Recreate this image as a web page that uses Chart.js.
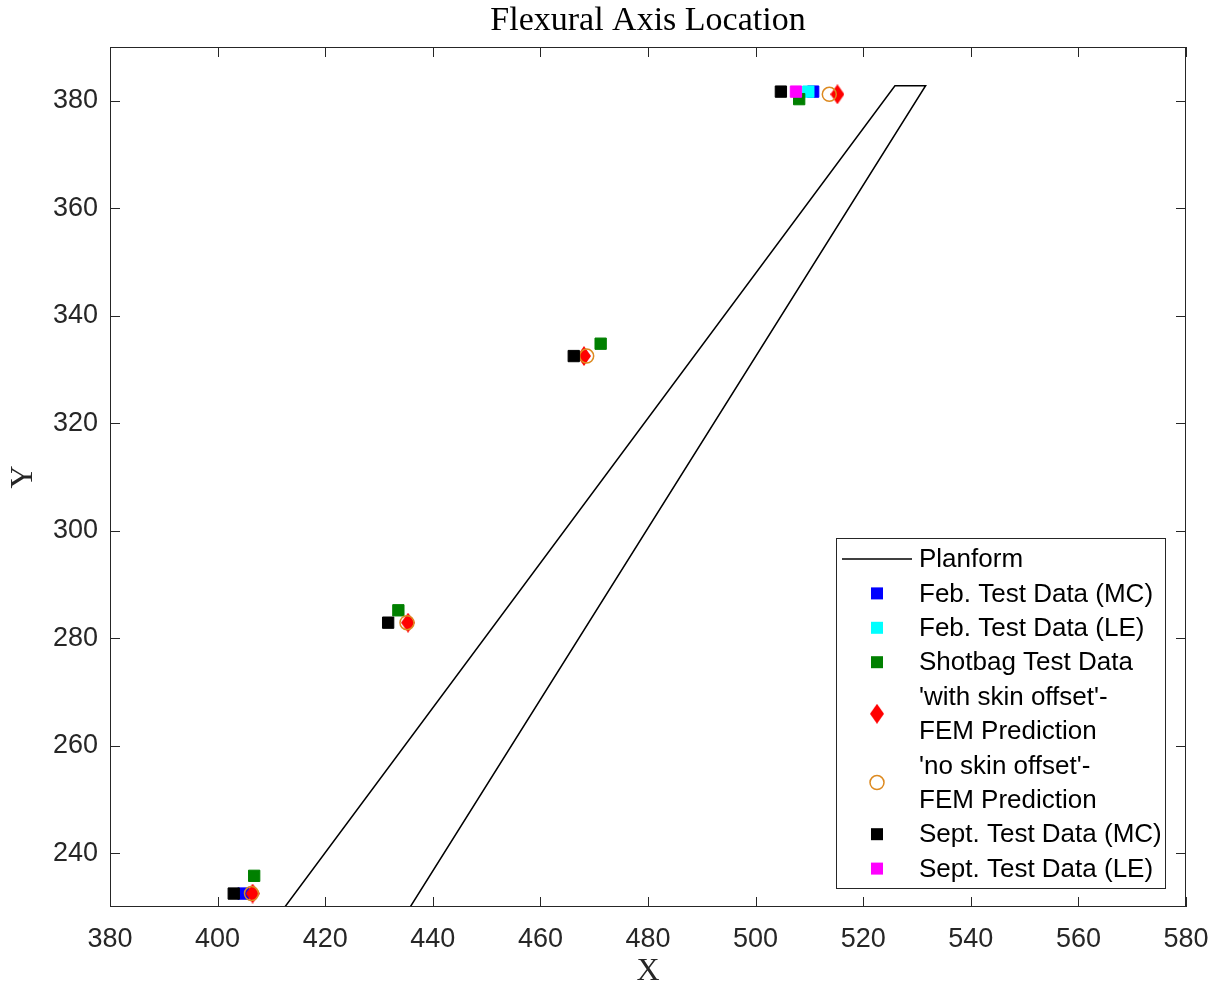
<!DOCTYPE html>
<html>
<head>
<meta charset="utf-8">
<title>Flexural Axis Location</title>
<script src="https://cdn.jsdelivr.net/npm/chart.js@4/dist/chart.umd.min.js"></script>
<style>
  html, body { margin: 0; padding: 0; background: #fff; }
  canvas { display: block; }
</style>
</head>
<body>
<canvas id="flexChart" width="1220" height="988"></canvas>
<script>
// axis ticks
const xTicks = [380, 400, 420, 440, 460, 480, 500, 520, 540, 560, 580];
const yTicks = [240, 260, 280, 300, 320, 340, 360, 380];

// planform outline (open at the root, clipped by the axis)
const planformX = [412.5, 525.9, 531.6, 435.8];
const planformY = [230, 382.8, 382.8, 230];

// measured / predicted flexural axis points
const febMcX = [510.7, 404.8];
const febMcY = [381.7, 232.5];
const febLeX = [509.8];
const febLeY = [381.7];
const shotbagX = [508.1, 471.2, 433.6, 406.8];
const shotbagY = [380.3, 334.8, 285.2, 235.8];
const withSkinX = [515.2, 468.1, 435.4, 406.5];
const withSkinY = [381.2, 332.5, 282.9, 232.5];
const noSkinX = [513.7, 468.6, 435.2, 406.3];
const noSkinY = [381.2, 332.5, 282.9, 232.5];
const septMcX = [504.7, 466.2, 431.7, 403.0];
const septMcY = [381.7, 332.5, 282.9, 232.5];
const septLeX = [507.5];
const septLeY = [381.7];

const axisColor = '#262626';
const sansFont = '"Liberation Sans", Arial, sans-serif';
const serifFont = '"Liberation Serif", "Times New Roman", serif';

const pts = (xs, ys) => xs.map((v, i) => ({ x: v, y: ys[i] }));

// tall red diamond like the matlab 'd' marker
function diamondImage(w, h, color) {
  const c = document.createElement('canvas');
  c.width = w; c.height = h;
  const g = c.getContext('2d');
  g.fillStyle = color;
  g.beginPath();
  g.moveTo(w / 2, 0);
  g.lineTo(w, h / 2);
  g.lineTo(w / 2, h);
  g.lineTo(0, h / 2);
  g.closePath();
  g.fill();
  return c;
}
const diamond = diamondImage(14, 20, '#ff0000');

function squareSet(label, data, color, order) {
  return {
    label, data, order,
    pointStyle: 'rect', pointRadius: 8, pointHoverRadius: 8,
    backgroundColor: color, borderColor: color, borderWidth: 1,
  };
}

const datasets = [
  {
    label: 'Planform', data: pts(planformX, planformY), order: 9,
    showLine: true, borderColor: '#000', borderWidth: 1.5,
    pointRadius: 0, pointHoverRadius: 0, fill: false,
  },
  squareSet('Feb. Test Data (MC)', pts(febMcX, febMcY), '#0000ff', 8),
  squareSet('Feb. Test Data (LE)', pts(febLeX, febLeY), '#00ffff', 7),
  squareSet('Shotbag Test Data', pts(shotbagX, shotbagY), '#008000', 6),
  {
    label: "'with skin offset'-\nFEM Prediction", data: pts(withSkinX, withSkinY), order: 5,
    pointStyle: diamond, pointRadius: 10, pointHoverRadius: 10,
    backgroundColor: '#ff0000', borderColor: '#ff0000',
  },
  {
    label: "'no skin offset'-\nFEM Prediction", data: pts(noSkinX, noSkinY), order: 4,
    pointStyle: 'circle', pointRadius: 7, pointHoverRadius: 7,
    backgroundColor: 'rgba(0,0,0,0)', borderColor: '#dd8a20', borderWidth: 1.5,
  },
  squareSet('Sept. Test Data (MC)', pts(septMcX, septMcY), '#000000', 3),
  squareSet('Sept. Test Data (LE)', pts(septLeX, septLeY), '#ff00ff', 2),
];

// matlab-like box with inward ticks, title and legend
const matlabAxes = {
  id: 'matlabAxes',
  afterDatasetsDraw(chart) {
    const { ctx, chartArea: a, scales: { x, y } } = chart;
    ctx.save();
    ctx.strokeStyle = axisColor;
    ctx.lineWidth = 1;
    ctx.strokeRect(a.left + 0.5, a.top + 0.5, a.right - a.left - 1, a.bottom - a.top - 1);
    ctx.beginPath();
    xTicks.forEach(v => {
      const px = Math.round(x.getPixelForValue(v)) + 0.5;
      ctx.moveTo(px, a.bottom); ctx.lineTo(px, a.bottom - 10);
      ctx.moveTo(px, a.top); ctx.lineTo(px, a.top + 10);
    });
    yTicks.forEach(v => {
      const py = Math.round(y.getPixelForValue(v)) + 0.5;
      ctx.moveTo(a.left, py); ctx.lineTo(a.left + 10, py);
      ctx.moveTo(a.right, py); ctx.lineTo(a.right - 10, py);
    });
    ctx.stroke();

    // title
    ctx.fillStyle = '#000';
    ctx.font = '34px ' + serifFont;
    ctx.textAlign = 'center';
    ctx.textBaseline = 'middle';
    ctx.fillText('Flexural Axis Location', (a.left + a.right) / 2, 21);
    ctx.restore();
  },
  afterDraw(chart) {
    const ctx = chart.ctx;
    const box = { left: 836, top: 538, right: 1165, bottom: 888 };
    const mx = 877, tx = 919, rowH = 34.4;
    ctx.save();
    ctx.fillStyle = '#fff';
    ctx.fillRect(box.left, box.top, box.right - box.left, box.bottom - box.top);
    ctx.strokeStyle = axisColor;
    ctx.lineWidth = 1;
    ctx.strokeRect(box.left + 0.5, box.top + 0.5, box.right - box.left, box.bottom - box.top);

    ctx.font = '26px ' + sansFont;
    ctx.textAlign = 'left';
    ctx.textBaseline = 'middle';
    let yy = 559;
    chart.data.datasets.forEach(ds => {
      const lines = ds.label.split('\n');
      const cy = yy + (lines.length - 1) * rowH / 2;
      ctx.save();
      if (ds.showLine) {
        ctx.strokeStyle = ds.borderColor;
        ctx.lineWidth = ds.borderWidth;
        ctx.beginPath();
        ctx.moveTo(842, cy); ctx.lineTo(912, cy);
        ctx.stroke();
      } else if (ds.pointStyle === 'rect') {
        ctx.fillStyle = ds.backgroundColor;
        ctx.fillRect(mx - 6, cy - 6, 12, 12);
      } else if (ds.pointStyle === 'circle') {
        ctx.strokeStyle = ds.borderColor;
        ctx.lineWidth = ds.borderWidth;
        ctx.beginPath();
        ctx.arc(mx, cy, 7, 0, Math.PI * 2);
        ctx.stroke();
      } else {
        ctx.drawImage(ds.pointStyle, mx - 7, cy - 10);
      }
      ctx.restore();
      ctx.fillStyle = '#000';
      lines.forEach((t, i) => ctx.fillText(t, tx, yy + i * rowH + 1));
      yy += lines.length * rowH;
    });
    ctx.restore();
  }
};

const ctx = document.getElementById('flexChart').getContext('2d');
const flexChart = new Chart(ctx, {
  type: 'scatter',
  data: { datasets },
  options: {
    responsive: false,
    animation: false,
    events: [],
    layout: { padding: { top: 47, right: 34, left: 0, bottom: 0 } },
    plugins: { legend: { display: false }, tooltip: { enabled: false }, title: { display: false } },
    scales: {
      x: {
        type: 'linear', min: 380, max: 580,
        afterBuildTicks: s => { s.ticks = xTicks.map(v => ({ value: v })); },
        afterFit: s => { s.height = 81; s.paddingLeft = 0; s.paddingRight = 0; },
        grid: { display: false, drawTicks: false },
        border: { display: false },
        ticks: { font: { family: sansFont, size: 27 }, color: axisColor, padding: 16, maxRotation: 0 },
        title: { display: true, text: 'X', color: axisColor, font: { family: serifFont, size: 32, lineHeight: 1 }, padding: { top: 0, bottom: 0 } },
      },
      y: {
        type: 'linear', min: 230, max: 390,
        afterBuildTicks: s => { s.ticks = yTicks.map(v => ({ value: v })); },
        afterFit: s => { s.width = 110; s.paddingTop = 0; s.paddingBottom = 0; },
        grid: { display: false, drawTicks: false },
        border: { display: false },
        ticks: { font: { family: sansFont, size: 27 }, color: axisColor, padding: 12 },
        title: { display: true, text: 'Y', color: axisColor, font: { family: serifFont, size: 32, lineHeight: 1 }, padding: { top: 8, bottom: 0 } },
      },
    },
  },
  plugins: [matlabAxes],
});
</script>
</body>
</html>
